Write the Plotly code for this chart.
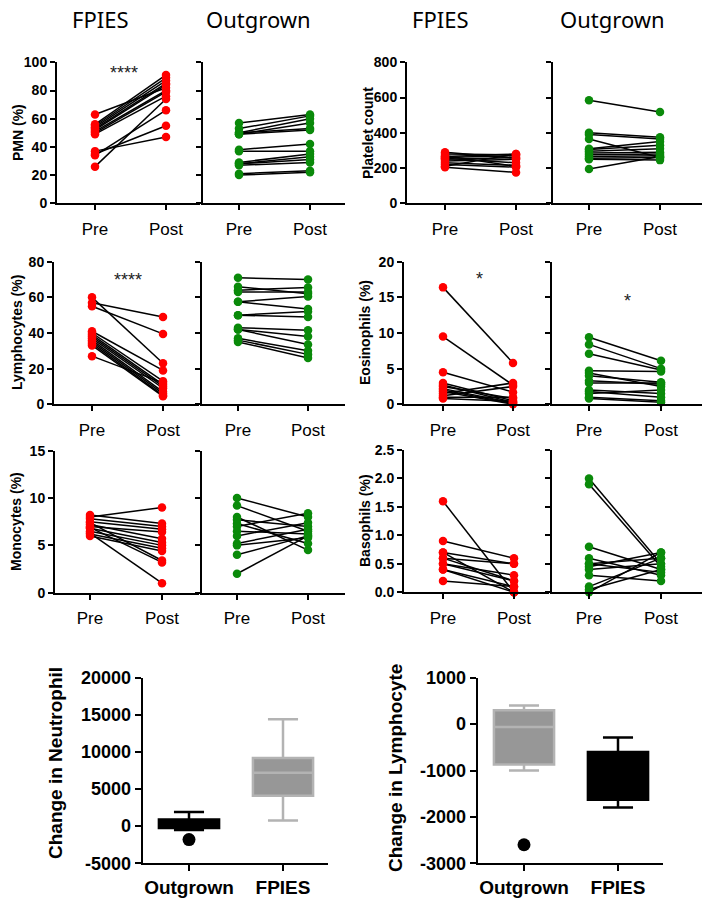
import plotly.graph_objects as go

W, H = 704, 904

# ---------------- data ----------------
groups = ["FPIES", "Outgrown"]
timepoints = ["Pre", "Post"]

pmn_fpies_pre = [63, 56, 55, 54, 53, 52, 51, 50, 49, 37, 35, 34, 26]
pmn_fpies_post = [82, 91, 89, 87, 85, 84, 80, 79, 76, 47, 55, 66, 74]
pmn_out_pre = [57, 53, 50, 49, 50, 49, 38, 37, 29, 28, 28, 27, 21, 20]
pmn_out_post = [63, 62, 60, 57, 53, 52, 42, 37, 35, 33, 31, 29, 23, 22]

plt_fpies_pre = [290, 280, 270, 265, 260, 255, 250, 240, 230, 220, 210, 205]
plt_fpies_post = [255, 275, 210, 280, 270, 230, 260, 250, 215, 205, 280, 175]
plt_out_pre = [585, 400, 390, 365, 310, 305, 295, 285, 275, 265, 255, 250, 195]
plt_out_post = [518, 375, 365, 260, 350, 330, 310, 290, 280, 270, 260, 245, 265]

lym_fpies_pre = [60, 57, 55, 41, 40, 39, 38, 37, 36, 35, 34, 33, 27]
lym_fpies_post = [23, 49, 39.5, 19, 13, 11, 10, 9, 7, 6, 5, 4.5, 12]
lym_out_pre = [71, 66, 64, 63, 57.5, 57.5, 50, 50, 43, 42, 42, 37, 36, 35]
lym_out_post = [70, 62, 65.5, 63, 53.5, 60.5, 52, 49, 41.5, 38, 33.5, 30, 28, 26]

eos_fpies_pre = [16.4, 9.5, 4.5, 3.0, 2.7, 2.5, 2.2, 2.0, 1.8, 1.5, 1.2, 1.0, 0.8]
eos_fpies_post = [5.8, 2.7, 1.7, 0.5, 0.3, 0.8, 0.2, 0.1, 0.0, 3.0, 2.5, 1.0, 0.4]
eos_out_pre = [9.4, 8.4, 7.1, 4.7, 4.4, 4.0, 3.3, 3.0, 2.0, 1.8, 1.5, 1.0, 0.8]
eos_out_post = [6.1, 5.0, 4.8, 4.6, 2.5, 3.1, 2.8, 3.0, 1.5, 1.0, 2.0, 0.5, 0.3]

mono_fpies_pre = [8.0, 8.2, 7.8, 7.5, 7.2, 7.0, 6.8, 6.5, 6.2, 6.0, 7.4, 6.9, 6.3]
mono_fpies_post = [9.0, 7.3, 7.0, 6.7, 5.7, 6.4, 5.3, 5.0, 4.7, 4.4, 3.4, 3.2, 1.0]
mono_out_pre = [10.0, 9.2, 8.0, 7.7, 7.3, 7.0, 6.5, 6.0, 5.2, 5.0, 4.0, 2.0]
mono_out_post = [8.0, 6.5, 4.5, 7.0, 5.2, 8.4, 6.2, 7.4, 6.7, 5.8, 6.0, 6.0]

baso_fpies_pre = [1.6, 0.9, 0.7, 0.6, 0.5, 0.5, 0.4, 0.7, 0.4, 0.2, 0.6]
baso_fpies_post = [0.0, 0.6, 0.5, 0.5, 0.3, 0.2, 0.1, 0.0, 0.0, 0.1, 0.2]
baso_out_pre = [2.0, 1.9, 0.8, 0.6, 0.5, 0.45, 0.4, 0.3, 0.1, 0.05, 0.0, 0.5]
baso_out_post = [0.5, 0.45, 0.4, 0.3, 0.6, 0.7, 0.5, 0.2, 0.6, 0.4, 0.7, 0.35]

box_categories = ["Outgrown", "FPIES"]
# [lowerfence, q1, median, q3, upperfence]
neut_out_stats = [-500, -250, 300, 900, 1900]
neut_fpies_stats = [750, 4100, 7200, 9200, 14400]
neut_outliers = [-1800]
neut_ticks = [-5000, 0, 5000, 10000, 15000, 20000]
lymph_out_stats = [-1000, -870, -60, 300, 400]
lymph_fpies_stats = [-1800, -1630, -1100, -600, -290]
lymph_outliers = [-2600]
lymph_ticks = [-3000, -2000, -1000, 0, 1000]

# ---------------- helpers ----------------
RED = "#ff0000"
GREEN = "#0a8a0a"
FONT = "Liberation Sans, Arial, sans-serif"


def fx(p):
    return p / W


def fy(p):
    return 1 - p / H


fig = go.Figure()
layout = dict()

panels = [
    (pmn_fpies_pre, pmn_fpies_post, RED, (57, 200, 95, 166), (62.3, 203.3), [0, 100], [0, 20, 40, 60, 80, 100], True, "d"),
    (pmn_out_pre, pmn_out_post, GREEN, (203, 345, 239, 310), (62.3, 203.3), [0, 100], [0, 20, 40, 60, 80, 100], False, "d"),
    (plt_fpies_pre, plt_fpies_post, RED, (407, 550, 445, 516), (62.3, 203.3), [0, 800], [0, 200, 400, 600, 800], True, "d"),
    (plt_out_pre, plt_out_post, GREEN, (553, 702, 589, 660), (62.3, 203.3), [0, 800], [0, 200, 400, 600, 800], False, "d"),
    (lym_fpies_pre, lym_fpies_post, RED, (54, 199, 92, 163), (261.7, 404.3), [0, 80], [0, 20, 40, 60, 80], True, "d"),
    (lym_out_pre, lym_out_post, GREEN, (202, 345, 238, 308), (261.7, 404.3), [0, 80], [0, 20, 40, 60, 80], False, "d"),
    (eos_fpies_pre, eos_fpies_post, RED, (404, 549, 443, 513), (261.7, 404.3), [0, 20], [0, 5, 10, 15, 20], True, "d"),
    (eos_out_pre, eos_out_post, GREEN, (552, 702, 589, 661), (261.7, 404.3), [0, 20], [0, 5, 10, 15, 20], False, "d"),
    (mono_fpies_pre, mono_fpies_post, RED, (55, 199, 90, 162), (450.7, 592.7), [0, 15], [0, 5, 10, 15], True, "d"),
    (mono_out_pre, mono_out_post, GREEN, (202, 345, 237, 308), (450.7, 592.7), [0, 15], [0, 5, 10, 15], False, "d"),
    (baso_fpies_pre, baso_fpies_post, RED, (404, 549, 443, 514), (450.0, 592.3), [0, 2.5], [0, 0.5, 1.0, 1.5, 2.0, 2.5], True, ".1f"),
    (baso_out_pre, baso_out_post, GREEN, (552, 702, 589, 661), (450.0, 592.3), [0, 2.5], [0, 0.5, 1.0, 1.5, 2.0, 2.5], False, ".1f"),
]

for i, (pre, post, color, xs, ys, yr, tv, showlab, fmt) in enumerate(panels, start=1):
    sfx = "" if i == 1 else str(i)
    xa, ya = "x" + sfx, "y" + sfx
    x0, x1, ppre, ppost = xs
    unit = ppost - ppre
    xr = [(x0 - ppre) / unit, 1 + (x1 - ppost) / unit]
    lx, ly = [], []
    for a, b in zip(pre, post):
        lx += [0, 1, None]
        ly += [a, b, None]
    fig.add_trace(go.Scatter(x=lx, y=ly, mode="lines", line=dict(color="black", width=1.5),
                             xaxis=xa, yaxis=ya, showlegend=False, hoverinfo="skip", cliponaxis=False))
    fig.add_trace(go.Scatter(x=[0] * len(pre) + [1] * len(post), y=list(pre) + list(post), mode="markers",
                             marker=dict(color=color, size=8.5, line=dict(width=0)),
                             xaxis=xa, yaxis=ya, showlegend=False, cliponaxis=False))
    layout["xaxis" + sfx] = dict(
        domain=[fx(x0), fx(x1)], range=xr, anchor=ya, automargin=False,
        showline=True, linecolor="black", linewidth=2, showgrid=False, zeroline=False,
        ticks="outside", ticklen=5, tickwidth=2, tickcolor="black",
        tickvals=[0, 1], ticktext=timepoints, tickfont=dict(family=FONT, size=17, color="black"),
        ticklabelstandoff=4, fixedrange=True,
    )
    layout["yaxis" + sfx] = dict(
        domain=[fy(ys[1]), fy(ys[0])], range=yr, anchor=xa, automargin=False,
        showline=True, linecolor="black", linewidth=2, showgrid=False, zeroline=False,
        ticks="outside", ticklen=5, tickwidth=2, tickcolor="black",
        tickvals=tv, tickformat=fmt, showticklabels=showlab,
        tickfont=dict(family=FONT, size=14, color="black", weight="bold"), fixedrange=True,
    )

# ---------------- box plots ----------------
box_axes = [
    (13, (142.7, 328, 189, 283), [-5000, 20000], neut_ticks,
     [(neut_out_stats, "black", "black"), (neut_fpies_stats, "#979797", "#b3b3b3")], neut_outliers),
    (14, (477.7, 663, 524, 618), [-3000, 1000], lymph_ticks,
     [(lymph_out_stats, "#979797", "#b3b3b3"), (lymph_fpies_stats, "black", "black")], lymph_outliers),
]
for idx, xs, yr, tv, boxes, outl in box_axes:
    sfx = str(idx)
    xa, ya = "x" + sfx, "y" + sfx
    x0, x1, p0, p1 = xs
    unit = p1 - p0
    xr = [(x0 - p0) / unit, 1 + (x1 - p1) / unit]
    for k, (st, fill, lc) in enumerate(boxes):
        fig.add_trace(go.Box(
            x=[k], lowerfence=[st[0]], q1=[st[1]], median=[st[2]], q3=[st[3]], upperfence=[st[4]],
            fillcolor=fill, line=dict(color=lc, width=2.5), width=0.64, whiskerwidth=0.5,
            xaxis=xa, yaxis=ya, showlegend=False, boxpoints=False,
        ))
    fig.add_trace(go.Scatter(x=[0] * len(outl), y=outl, mode="markers",
                             marker=dict(color="black", size=13), xaxis=xa, yaxis=ya,
                             showlegend=False, cliponaxis=False))
    layout["xaxis" + sfx] = dict(
        domain=[fx(x0), fx(x1)], range=xr, anchor=ya, automargin=False,
        showline=True, linecolor="black", linewidth=2, showgrid=False, zeroline=False,
        ticks="outside", ticklen=6, tickwidth=2, tickcolor="black",
        tickvals=[0, 1], ticktext=box_categories,
        tickfont=dict(family=FONT, size=19, color="black", weight="bold"), fixedrange=True,
    )
    layout["yaxis" + sfx] = dict(
        domain=[fy(863.3), fy(677.7)], range=yr, anchor=xa, automargin=False,
        showline=True, linecolor="black", linewidth=2, showgrid=False, zeroline=False,
        ticks="outside", ticklen=6, tickwidth=2, tickcolor="black",
        tickvals=tv, ticktext=[str(v) for v in tv],
        tickfont=dict(family=FONT, size=18, color="black", weight="bold"), fixedrange=True,
    )

# ---------------- annotations ----------------
ann = []
for txt, xp in [("FPIES", 100), ("Outgrown", 258), ("FPIES", 440), ("Outgrown", 612)]:
    ann.append(dict(text=txt, x=fx(xp), y=fy(19), xref="paper", yref="paper", showarrow=False,
                    xanchor="center", yanchor="middle", font=dict(family="Noto Sans", size=22, color="black")))

ytitles = [("PMN (%)", 18, 133), ("Lymphocytes (%)", 17, 333), ("Monocytes (%)", 16, 522),
           ("Platelet count", 368, 133), ("Eosinophils (%)", 365, 333), ("Basophils (%)", 365, 521)]
for txt, xp, yp in ytitles:
    ann.append(dict(text=txt, x=fx(xp), y=fy(yp), xref="paper", yref="paper", showarrow=False,
                    textangle=-90, xanchor="center", yanchor="middle",
                    font=dict(family=FONT, size=14, color="black", weight="bold")))

for txt, xp, yp in [("Change in Neutrophil", 55, 763), ("Change in Lymphocyte", 395, 768)]:
    ann.append(dict(text=txt, x=fx(xp), y=fy(yp), xref="paper", yref="paper", showarrow=False,
                    textangle=-90, xanchor="center", yanchor="middle",
                    font=dict(family=FONT, size=19, color="black", weight="bold")))

for txt, xp, yp in [("****", 124, 73), ("****", 128, 280), ("*", 480, 279), ("*", 627, 301)]:
    ann.append(dict(text=txt, x=fx(xp), y=fy(yp), xref="paper", yref="paper", showarrow=False,
                    xanchor="center", yanchor="middle", font=dict(family=FONT, size=18, color="#222")))

layout.update(dict(
    template="none",
    width=W, height=H, margin=dict(l=0, r=0, t=0, b=0, autoexpand=False),
    paper_bgcolor="white", plot_bgcolor="white", annotations=ann, showlegend=False,
))
fig.update_layout(**layout)
fig.write_html("out.html", config={"displayModeBar": False},
               post_script="document.body.style.margin='0';")
